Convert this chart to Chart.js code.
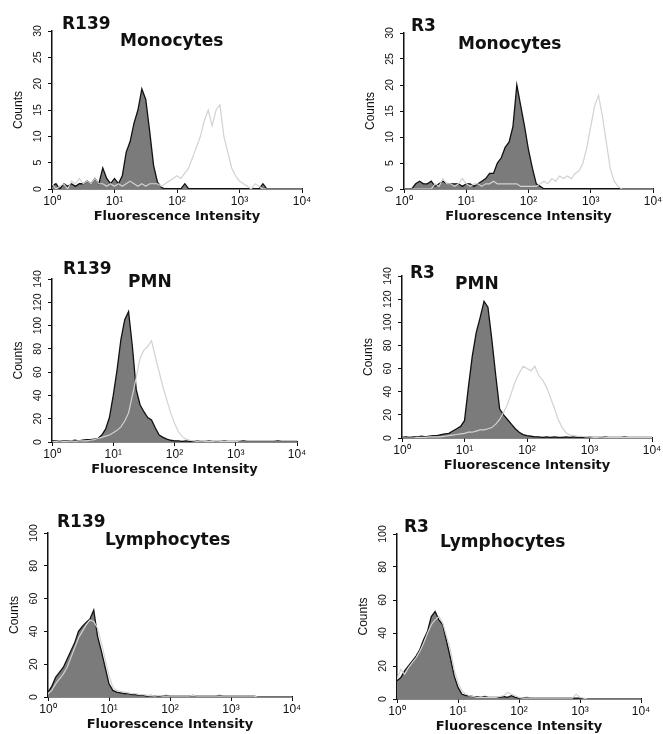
<!DOCTYPE html>
<html><head><meta charset="utf-8">
<script src="https://cdn.jsdelivr.net/npm/chart.js@4.4.1/dist/chart.umd.min.js"></script>
<style>
html,body{margin:0;padding:0;background:#fff;}
#fig{position:relative;width:663px;height:734px;overflow:hidden;background:#fff;}
#fig canvas{position:absolute;}
.lbl{position:absolute;font-family:'DejaVu Sans',sans-serif;font-weight:bold;font-size:17px;line-height:17px;color:#111;white-space:nowrap;}
</style></head><body>
<div id="fig"></div>
<script>
// ---------- data ----------
const BINS_PER_DECADE = 16;            // cytometer channels per decade (65 channels, 10^0 .. 10^4)
const xTickValues = [1, 10, 100, 1000, 10000];
const xTickLabels = ['10\u2070', '10\u00B9', '10\u00B2', '10\u00B3', '10\u2074'];
const yTicksMono = [0, 5, 10, 15, 20, 25, 30];
const yTicksPMN = [0, 20, 40, 60, 80, 100, 120, 140];
const yTicksLym = [0, 20, 40, 60, 80, 100];

const monoR139Filled = [0.5,1,0,1,0.5,1,0.5,1,1,1.5,1,2,1,4,2,1,2,1,2.5,7,9,12.5,15,19,17,11,4.5,1.3,0.3,0,0,0,0,0,1,0,0,0,0,0,0,0,0,0,0,0,0,0,0,0,0,0,0,0,1,0,0,0,0,0,0,0,0,0,0];
const monoR139Open   = [1,0,0.5,1,0,1.5,1,2,1,1.5,1,2,1,1,0.5,1,0.5,1,0.5,1,1.5,1,0.5,1,0.5,1,1,1,0.5,1,1.5,2,2.5,2,3,4,6,8,10,13,15,12,15,16,10,7,4,2.5,1.5,1,0.5,0,1,0.5,0,0,0,0,0,0,0,0,0,0,0];
const monoR3Filled   = [0,0,0,1,1.5,1,1,1.5,0.5,1,1.5,1,1,1,1,0.5,1,1,0.5,1,1.5,2,3,3,5,6,8,9,12,20,16,12,7.5,4,1,0.5,0,0,0,0,0,0,0,0,0,0,0,0,0,0,0,0,0,0,0,0,0,0,0,0,0,0,0,0,0];
const monoR3Open     = [0,0,0,0,0,0,0,0,1,0.5,2,1,1,0.5,1,2,1,0.5,1,1,0.5,1,1,1.5,1,1,1,1,1,1,0.5,0.5,0.5,0.5,0.5,1,1.5,1,2,1.5,2.5,2,2.5,2,3,3.5,5,8,12,16,18,14,9,4,1.5,0.5,0,0,0,0,0,0,0,0,0];
const pmnR139Filled  = [1,1,0.5,1,1,1,1.5,1,1.5,2,2,2.5,3,6,11,21,40,62,88,105,112,82,45,32,26,21,19,12,6,4,2.5,1.5,1,1,0.5,1,0.5,0.5,1,0.5,0.5,1,0.5,0.5,0.5,1,0.5,0.5,0.5,0.5,1,0.5,0.5,0.5,0.5,0.5,0.5,0.5,0.5,1,0.5,0.5,0.5,0.5,0.5];
const pmnR139Open    = [0,0.5,0,0.5,0.5,1,0.5,1,1,1,1.5,2,3,4,5,6,8,10,13,18,25,40,55,72,79,82,87,73,60,47,36,25,16,9,4.6,2.5,1.5,1,0.5,1,0.5,0.5,0.5,1,0.5,0.5,0.5,0.5,0.5,0,0,0,0,0,0,0,0,0,0,0,0,0,0,0,0];
const pmnR3Filled    = [0.5,1,0.5,1,1,1.5,1,1.5,2,2,3,3.5,4,6,8,10,15,44,71,91,104,118,113,85,54,25,20,16,12,8,5,3,2,1.5,1,1,0.5,1,0.5,1,0.5,0.5,1,0.5,1,0.5,0.5,0.5,1,0.5,0.5,0.5,1,0.5,0.5,0.5,0.5,1,0.5,0.5,0.5,0.5,0.5,0.5,0.5];
const pmnR3Open      = [0,0,0,0,0.5,0.5,0.5,1,1,1,1,1.5,2,2.5,3,3.5,4,5,5,6,7,7,8,9,12,16,22,29,39,49,56,62,60,58,62,54,50,44,35,26,16,9,4.6,2.5,2,1.5,1.5,1,1,0.5,0.5,1,0.5,0.5,0.5,0.5,0.5,0.5,0.5,0.5,0.5,0.5,0.5,0.5,0.5];
const lymR139Filled  = [3,6.5,12,15,18,23,28,33,40,43,45.5,47.5,53,37,28,18,8,4,3,2.5,2,2,1.5,1.5,1,1,0.5,1,0.5,0.5,0.5,1,0.5,0.5,0.5,0.5,0.5,0.5,1,0.5,0.5,0.5,0.5,0.5,0.5,1,0.5,0.5,0.5,0.5,0.5,0.5,0.5,0.5,0.5,0,0,0,0,0,0,0,0,0,0];
const lymR139Open    = [2,4,8,11,14,18,24,30,36,40,44,47,46,42,33,23,13,6,4,3.5,3,2.5,2,2,1.5,1.5,1,1,0.5,1,0.5,0.5,0.5,0.5,0.5,0.5,0.5,0.5,1,0.5,0.5,0.5,0.5,0.5,0.5,0.5,0.5,0.5,0.5,0.5,0.5,0.5,0.5,0.5,0.5,0,0,0,0,0,0,0,0,0,0];
const lymR3Filled    = [11,13,17,20,23,26,30,36,41,50,53,48,45,35,25,14,7,3,2,2,1.5,1.5,1,1.5,1,1,1,1,1.5,1,2,1,0.5,0.5,1,0.5,0.5,0.5,0.5,0.5,0.5,0.5,0.5,0.5,0.5,0.5,0.5,0.5,0.5,0,0,0,0,0,0,0,0,0,0,0,0,0,0,0,0];
const lymR3Open      = [12,18,15,19,22,25,29,34,40,45,48,50,46,38,30,18,10,5,3,2,1.5,1,1,1,1,1,1,1.5,2,4,3,2,1,0.5,0.5,0.5,0.5,0.5,0.5,0.5,0.5,0.5,0.5,0.5,0.5,0.5,0.5,3,1,0.5,0,0,0,0,0,0,0,0,0,0,0,0,0,0,0];

// ---------- layout / style ----------
const YW = 41, XH = 35, PAD_T = 12, PAD_R = 16, PAD_B = 4;
const panels = [
  {name:'R139', cell:'Monocytes', filled:monoR139Filled, open:monoR139Open, yTicks:yTicksMono, box:[52,31,302,189], lab:[[62,14.7],[120,31.5]]},
  {name:'R3',   cell:'Monocytes', filled:monoR3Filled,   open:monoR3Open,   yTicks:yTicksMono, box:[404,33,653,189], lab:[[411,17.3],[458,34.7]]},
  {name:'R139', cell:'PMN',       filled:pmnR139Filled,  open:pmnR139Open,  yTicks:yTicksPMN,  box:[52,279,297,442], lab:[[63,260.3],[128,273]]},
  {name:'R3',   cell:'PMN',       filled:pmnR3Filled,    open:pmnR3Open,    yTicks:yTicksPMN,  box:[402,276,652,438], lab:[[410,264],[455,274.7]]},
  {name:'R139', cell:'Lymphocytes', filled:lymR139Filled, open:lymR139Open, yTicks:yTicksLym, box:[48,533,292,697], lab:[[57,513],[105,530.7]]},
  {name:'R3',   cell:'Lymphocytes', filled:lymR3Filled,   open:lymR3Open,   yTicks:yTicksLym, box:[397,534,641,699], lab:[[404,518],[440,533]]}
];

Chart.defaults.font.family = "'Liberation Sans', Arial, sans-serif";
Chart.defaults.color = '#111';

const fig = document.getElementById('fig');
const channel = i => Math.pow(10, i / BINS_PER_DECADE);

panels.forEach(p => {
  const [L, T, R, B] = p.box;
  const cv = document.createElement('canvas');
  const w = YW + (R - L) + PAD_R, h = PAD_T + (B - T) + XH + PAD_B;
  cv.width = w; cv.height = h;
  cv.style.left = (L - YW) + 'px'; cv.style.top = (T - PAD_T) + 'px';
  cv.style.width = w + 'px'; cv.style.height = h + 'px';
  fig.appendChild(cv);
  const yMax = p.yTicks[p.yTicks.length - 1];
  const threeDigit = yMax >= 100;
  new Chart(cv, {
    type: 'line',
    data: {
      datasets: [
        {label: p.name + ' ' + p.cell + ' (stained)', data: p.open.map((v, i) => ({x: channel(i), y: v})),
         borderColor: '#d2d2d2', borderWidth: 1.2, fill: false, pointRadius: 0, tension: 0, order: 0},
        {label: p.name + ' ' + p.cell + ' (control)', data: p.filled.map((v, i) => ({x: channel(i), y: v})),
         borderColor: '#111', borderWidth: 1.3, backgroundColor: '#7b7b7b', fill: 'origin', pointRadius: 0, tension: 0, order: 1}
      ]
    },
    options: {
      responsive: false, animation: false, devicePixelRatio: 1,
      layout: {padding: {top: PAD_T, right: PAD_R, bottom: PAD_B, left: 0}},
      plugins: {legend: {display: false}, tooltip: {enabled: false}},
      scales: {
        x: {
          type: 'logarithmic', min: 1, max: 10000,
          afterBuildTicks: s => { s.ticks = xTickValues.map(v => ({value: v})); },
          afterFit: s => { s.height = XH; },
          ticks: {autoSkip: false, maxRotation: 0, padding: 1, font: {size: 12}, color: '#111',
                  callback: (v, i) => xTickLabels[i]},
          grid: {display: true, drawOnChartArea: false, drawTicks: true, tickLength: 4, color: '#111', lineWidth: 1},
          border: {display: true, color: '#111', width: 1.5},
          title: {display: true, text: 'Fluorescence Intensity', color: '#111', padding: 0,
                  font: {family: "'DejaVu Sans', sans-serif", weight: 'bold', size: 13}}
        },
        y: {
          type: 'linear', min: 0, max: yMax,
          afterBuildTicks: s => { s.ticks = p.yTicks.map(v => ({value: v})); },
          afterFit: s => { s.width = YW; },
          ticks: {minRotation: 90, maxRotation: 90, crossAlign: 'center', padding: threeDigit ? 1.5 : 4,
                  font: {size: 10.5}, color: '#111'},
          grid: {display: true, drawOnChartArea: false, drawTicks: true, tickLength: 4, color: '#111', lineWidth: 1},
          border: {display: true, color: '#111', width: 1.5},
          title: {display: true, text: 'Counts', color: '#111', padding: 0, font: {size: 12}}
        }
      }
    }
  });
  [p.name, p.cell].forEach((t, k) => {
    const d = document.createElement('div');
    d.className = 'lbl'; d.textContent = t;
    d.style.left = p.lab[k][0] + 'px'; d.style.top = p.lab[k][1] + 'px';
    fig.appendChild(d);
  });
});
</script>
</body></html>
